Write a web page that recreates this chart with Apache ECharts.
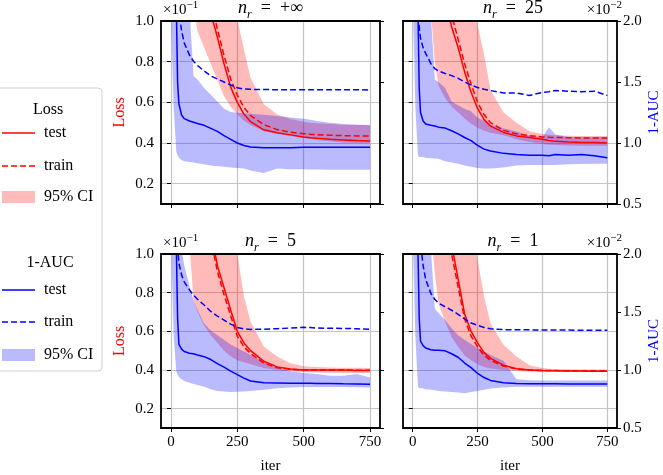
<!DOCTYPE html>
<html><head><meta charset="utf-8">
<script src="https://cdn.jsdelivr.net/npm/echarts@6/dist/echarts.min.js"></script>
<style>html,body{margin:0;padding:0;background:#fff}#c{width:663px;height:475px}</style>
</head><body><div id="c"></div><script>
// ---------- data ----------
const iters = [0,10,20,25,30,40,50,70,85,100,125,150,175,200,225,250,275,300,350,400,450,500,525,550,600,650,700,750];
const panelLabels = ['+∞','25','5','1'];
const xTicks = [0,250,500,750];
const lossTicks = [0.2,0.4,0.6,0.8,1.0];
const aucTicks = [0.5,1.0,1.5,2.0];

// n_r = +inf
const lossTestInf  = [2.6,2.45,2.3,2.22,2.15,2.0,1.87,1.62,1.47,1.34,1.17,1.04,0.92,0.79,0.675,0.6,0.542,0.505,0.465,0.45,0.44,0.43,0.426,0.423,0.418,0.415,0.412,0.41];
const lossTrainInf = [2.7,2.55,2.4,2.32,2.25,2.1,1.96,1.7,1.55,1.42,1.24,1.1,0.96,0.83,0.715,0.635,0.575,0.535,0.49,0.466,0.453,0.446,0.443,0.441,0.438,0.436,0.435,0.434];
const lossHiInf    = [4.0,3.9,3.8,3.75,3.7,3.6,3.5,3.3,3.1,2.8,2.4,2.0,1.65,1.38,1.17,1.01,0.86,0.72,0.59,0.54,0.518,0.505,0.5,0.497,0.493,0.49,0.49,0.488];
const lossLoInf    = [2.2,2.0,1.85,1.78,1.7,1.55,1.42,1.2,1.07,0.95,0.87,0.79,0.71,0.63,0.58,0.54,0.51,0.488,0.458,0.445,0.435,0.425,0.42,0.415,0.408,0.403,0.4,0.4];
const aucTestInf   = [2.6,2.45,2.15,1.5,1.32,1.23,1.2,1.18,1.17,1.16,1.145,1.12,1.095,1.06,1.03,1.0,0.98,0.967,0.962,0.962,0.962,0.965,0.966,0.966,0.965,0.966,0.965,0.965];
const aucTrainInf  = [3.0,2.6,2.3,2.2,2.08,1.92,1.82,1.72,1.67,1.635,1.59,1.55,1.525,1.5,1.475,1.452,1.443,1.44,1.438,1.437,1.437,1.436,1.436,1.437,1.437,1.436,1.436,1.435];
const aucHiInf     = [3.0,2.9,2.8,2.75,2.7,2.55,2.4,2.1,1.55,1.52,1.45,1.395,1.34,1.28,1.255,1.248,1.243,1.24,1.232,1.222,1.21,1.198,1.19,1.18,1.165,1.155,1.15,1.145];
const aucLoInf     = [2.1,1.3,0.93,0.9,0.88,0.86,0.85,0.845,0.84,0.835,0.825,0.815,0.81,0.805,0.8,0.795,0.79,0.775,0.755,0.79,0.785,0.785,0.783,0.782,0.78,0.78,0.78,0.78];

// n_r = 25
const lossTest25  = [2.4,2.25,2.1,2.03,1.97,1.85,1.75,1.55,1.42,1.3,1.12,0.97,0.87,0.75,0.65,0.57,0.515,0.483,0.452,0.435,0.427,0.418,0.412,0.408,0.405,0.403,0.402,0.40];
const lossTrain25 = [2.5,2.35,2.2,2.13,2.06,1.95,1.84,1.64,1.5,1.38,1.2,1.03,0.91,0.79,0.69,0.6,0.54,0.5,0.462,0.445,0.436,0.43,0.428,0.427,0.426,0.425,0.424,0.424];
const lossHi25    = [4.0,3.9,3.8,3.75,3.7,3.6,3.5,3.3,3.1,2.9,2.5,2.1,1.75,1.45,1.2,0.98,0.835,0.66,0.55,0.5,0.458,0.444,0.44,0.438,0.436,0.435,0.434,0.434];
const lossLo25    = [1.8,1.7,1.6,1.55,1.5,1.4,1.28,1.05,0.8,0.68,0.62,0.58,0.55,0.52,0.495,0.475,0.46,0.45,0.438,0.418,0.405,0.395,0.392,0.39,0.388,0.387,0.387,0.387];
const aucTest25   = [2.6,2.45,2.1,1.45,1.25,1.18,1.155,1.145,1.14,1.13,1.122,1.1,1.075,1.045,1.02,0.98,0.95,0.935,0.915,0.905,0.9,0.9,0.895,0.905,0.9,0.905,0.895,0.88];
const aucTrain25  = [3.0,2.6,2.1,1.95,1.86,1.78,1.735,1.65,1.61,1.59,1.57,1.552,1.53,1.5,1.475,1.455,1.44,1.43,1.41,1.41,1.39,1.415,1.42,1.43,1.425,1.42,1.425,1.39];
const aucHi25     = [3.0,2.9,2.8,2.75,2.7,2.6,2.5,2.05,1.52,1.5,1.45,1.34,1.31,1.28,1.26,1.21,1.18,1.15,1.12,1.095,1.06,1.05,1.13,1.07,1.05,1.05,1.05,1.05];
const aucLo25     = [2.2,1.3,0.9,0.885,0.885,0.885,0.88,0.875,0.872,0.87,0.85,0.84,0.83,0.815,0.805,0.795,0.79,0.79,0.8,0.815,0.82,0.82,0.82,0.82,0.825,0.828,0.83,0.83];

// n_r = 5
const lossTest5  = [2.8,2.7,2.6,2.55,2.5,2.4,2.3,2.05,1.85,1.65,1.4,1.12,0.94,0.825,0.71,0.6,0.54,0.5,0.445,0.416,0.405,0.4,0.4,0.4,0.4,0.4,0.398,0.398];
const lossTrain5 = [2.75,2.65,2.55,2.5,2.45,2.35,2.25,2.0,1.8,1.6,1.35,1.08,0.91,0.79,0.68,0.575,0.52,0.485,0.435,0.412,0.403,0.4,0.4,0.4,0.4,0.4,0.399,0.399];
const lossHi5    = [3.4,3.3,3.2,3.15,3.1,3.0,2.9,2.7,2.55,2.4,2.15,1.9,1.65,1.42,1.2,1.0,0.78,0.65,0.52,0.47,0.435,0.42,0.417,0.415,0.413,0.412,0.411,0.41];
const lossLo5    = [1.8,1.7,1.6,1.55,1.5,1.4,1.3,1.05,0.76,0.7,0.63,0.58,0.54,0.5,0.47,0.45,0.44,0.43,0.41,0.4,0.393,0.39,0.388,0.387,0.386,0.385,0.385,0.385];
const aucTest5   = [2.6,2.4,2.1,1.45,1.22,1.18,1.16,1.145,1.14,1.13,1.115,1.09,1.055,1.025,0.99,0.96,0.93,0.905,0.89,0.888,0.886,0.886,0.885,0.884,0.883,0.881,0.88,0.878];
const aucTrain5  = [3.0,2.6,2.2,2.05,1.92,1.82,1.76,1.69,1.645,1.61,1.56,1.505,1.465,1.43,1.395,1.366,1.355,1.35,1.352,1.356,1.362,1.368,1.366,1.362,1.36,1.358,1.356,1.35];
const aucHi5     = [3.0,2.8,2.6,2.5,2.4,2.05,1.9,1.72,1.6,1.52,1.4,1.34,1.3,1.26,1.22,1.19,1.16,1.13,1.07,1.02,0.99,0.975,0.97,0.965,0.95,0.95,0.965,0.935];
const aucLo5     = [2.2,1.3,0.99,0.96,0.94,0.92,0.905,0.89,0.88,0.87,0.855,0.835,0.82,0.815,0.81,0.812,0.815,0.82,0.83,0.843,0.85,0.853,0.853,0.853,0.853,0.853,0.852,0.85];

// n_r = 1
const lossTest1  = [2.8,2.7,2.6,2.55,2.5,2.4,2.3,2.05,1.85,1.6,1.33,1.05,0.87,0.69,0.6,0.54,0.49,0.46,0.425,0.407,0.4,0.397,0.396,0.396,0.395,0.395,0.394,0.394];
const lossTrain1 = [2.75,2.65,2.55,2.5,2.45,2.35,2.25,2.0,1.8,1.55,1.28,1.0,0.83,0.665,0.575,0.52,0.475,0.45,0.42,0.405,0.4,0.398,0.397,0.397,0.396,0.396,0.396,0.396];
const lossHi1    = [3.4,3.3,3.2,3.15,3.1,3.0,2.9,2.7,2.55,2.4,2.15,1.9,1.65,1.4,1.18,0.97,0.78,0.64,0.53,0.47,0.425,0.41,0.407,0.405,0.404,0.403,0.403,0.403];
const lossLo1    = [1.8,1.7,1.6,1.55,1.5,1.4,1.3,1.12,0.9,0.74,0.65,0.57,0.52,0.475,0.45,0.43,0.415,0.408,0.4,0.395,0.392,0.39,0.39,0.39,0.39,0.39,0.39,0.39];
const aucTest1   = [2.6,2.4,2.05,1.45,1.25,1.21,1.19,1.175,1.17,1.17,1.165,1.14,1.11,1.06,1.02,0.97,0.935,0.91,0.89,0.884,0.882,0.882,0.881,0.881,0.88,0.88,0.88,0.88];
const aucTrain1  = [3.0,2.6,2.3,2.2,2.1,1.9,1.78,1.66,1.61,1.575,1.545,1.515,1.48,1.44,1.405,1.385,1.367,1.355,1.348,1.347,1.346,1.345,1.345,1.344,1.344,1.343,1.343,1.343];
const aucHi1     = [3.0,2.9,2.8,2.75,2.7,2.55,2.4,2.05,1.53,1.49,1.43,1.36,1.3,1.26,1.225,1.19,1.16,1.13,1.08,0.92,0.912,0.91,0.91,0.91,0.91,0.91,0.91,0.91];
const aucLo1     = [2.2,1.3,0.86,0.845,0.843,0.84,0.835,0.83,0.825,0.82,0.815,0.81,0.805,0.8,0.81,0.82,0.83,0.84,0.85,0.855,0.855,0.855,0.855,0.855,0.855,0.855,0.855,0.855];

// ---------- style / layout ----------
const F = "'Liberation Serif','DejaVu Serif',serif";
const lossCol = '#ff0000', aucCol = '#0000ff';
const lossFill = 'rgba(255,0,0,0.27)', aucFill = 'rgba(0,0,255,0.27)';
const gridCol = '#c4c4c4';

const panels = [
  {lab:panelLabels[0], lt:lossTestInf, ltr:lossTrainInf, llo:lossLoInf, lhi:lossHiInf, at:aucTestInf, atr:aucTrainInf, alo:aucLoInf, ahi:aucHiInf},
  {lab:panelLabels[1], lt:lossTest25, ltr:lossTrain25, llo:lossLo25, lhi:lossHi25, at:aucTest25, atr:aucTrain25, alo:aucLo25, ahi:aucHi25},
  {lab:panelLabels[2], lt:lossTest5, ltr:lossTrain5, llo:lossLo5, lhi:lossHi5, at:aucTest5, atr:aucTrain5, alo:aucLo5, ahi:aucHi5},
  {lab:panelLabels[3], lt:lossTest1, ltr:lossTrain1, llo:lossLo1, lhi:lossHi1, at:aucTest1, atr:aucTrain1, alo:aucLo1, ahi:aucHi1}
];
const layout = [
  {left:161, top:21, width:219, height:183, isLeft:true,  bottom:false, offTop:3},
  {left:403, top:21, width:220, height:183, isLeft:false, bottom:false, offTop:3},
  {left:161, top:254, width:219, height:185, isLeft:true,  bottom:true, offTop:236},
  {left:403, top:254, width:220, height:185, isLeft:false, bottom:true, offTop:236}
];

const pairs = ys => iters.map((x,i)=>[x, ys[i]]);
const tickTxt = {fontFamily:F, fontSize:15, color:'#000'};

function bandSeries(p, yIdx, lo, hi, fill) {
  return {
    type:'custom', coordinateSystem:'cartesian2d', xAxisIndex:p, yAxisIndex:yIdx,
    silent:true, clip:true, animation:false, z:1,
    data: iters.map((x,i)=>[x, lo[i], hi[i]]),
    encode:{x:0, y:[1,2]},
    renderItem: function(params, api) {
      if (params.dataIndex !== 0) return null;
      const pts = [];
      for (let i = 0; i < iters.length; i++) pts.push(api.coord([iters[i], hi[i]]));
      for (let i = iters.length - 1; i >= 0; i--) pts.push(api.coord([iters[i], lo[i]]));
      const cs = params.coordSys;
      return {
        type:'polygon', shape:{points:pts}, style:{fill:fill, stroke:null},
        clipPath:{type:'rect', shape:{x:cs.x, y:cs.y, width:cs.width, height:cs.height}}
      };
    }
  };
}

const grid = [], xAxis = [], yAxis = [], series = [], title = [];
layout.forEach((L, p) => {
  const P = panels[p];
  grid.push({left:L.left, top:L.top, width:L.width, height:L.height, show:true, z:8, borderColor:'#000', borderWidth:1.8, backgroundColor:'transparent'});
  xAxis.push({type:'value', gridIndex:p, min:-37.5, max:787.5,
    axisLine:{show:false},
    axisTick:{show:true, customValues:xTicks, length:4, lineStyle:{color:'#000', width:1}},
    axisLabel:Object.assign({show:L.bottom, customValues:xTicks, margin:7}, tickTxt),
    splitLine:{show:true, lineStyle:{color:gridCol, width:1.2}},
    name:L.bottom?'iter':'', nameLocation:'middle', nameGap:31, nameTextStyle:tickTxt});
  yAxis.push({type:'value', gridIndex:p, position:'left', min:0.1, max:1.0,
    axisLine:{show:false},
    axisTick:{show:true, customValues:lossTicks, length:4, lineStyle:{color:'#000', width:1}},
    axisLabel:Object.assign({show:L.isLeft, customValues:lossTicks, margin:7, formatter:v=>v.toFixed(1)}, tickTxt),
    splitLine:{show:true, lineStyle:{color:gridCol, width:1.2}},
    name:L.isLeft?'Loss':'', nameLocation:'middle', nameGap:33, nameTextStyle:{fontFamily:F, fontSize:16, color:lossCol}});
  yAxis.push({type:'value', gridIndex:p, position:'right', min:0.5, max:2.0, interval:0.5,
    axisLine:{show:false},
    axisTick:{show:true, customValues:aucTicks, length:4, lineStyle:{color:'#000', width:1}},
    axisLabel:Object.assign({show:!L.isLeft, customValues:aucTicks, margin:6, formatter:v=>v.toFixed(1)}, tickTxt),
    splitLine:{show:false},
    name:L.isLeft?'':'1-AUC', nameLocation:'middle', nameGap:30, nameTextStyle:{fontFamily:F, fontSize:15, color:aucCol}});

  series.push(bandSeries(p, 2*p, P.llo, P.lhi, lossFill));
  series.push(bandSeries(p, 2*p+1, P.alo, P.ahi, aucFill));

  const base = {type:'line', xAxisIndex:p, symbol:'none', showSymbol:false, silent:true, clip:true, animation:false, z:3};
  series.push(Object.assign({}, base, {yAxisIndex:2*p, data:pairs(P.ltr), lineStyle:{color:lossCol, width:1.5, type:[6,3]}}));
  series.push(Object.assign({}, base, {yAxisIndex:2*p, data:pairs(P.lt), lineStyle:{color:lossCol, width:1.5}}));
  series.push(Object.assign({}, base, {yAxisIndex:2*p+1, data:pairs(P.atr), lineStyle:{color:aucCol, width:1.5, type:[6,3]}}));
  series.push(Object.assign({}, base, {yAxisIndex:2*p+1, data:pairs(P.at), lineStyle:{color:aucCol, width:1.5}}));

  title.push({text:'{i|n}{s|r}{t|  =  ' + P.lab + '}', left:L.left + L.width/2, top:L.top - 25, textAlign:'center', padding:0,
    textStyle:{fontWeight:'normal', rich:{
      i:{fontFamily:F, fontStyle:'italic', fontWeight:'normal', fontSize:18, color:'#000'},
      s:{fontFamily:F, fontStyle:'italic', fontWeight:'normal', fontSize:12, color:'#000', padding:[13,0,0,0]},
      t:{fontFamily:F, fontWeight:'normal', fontSize:18, color:'#000'}}}});
  title.push({text:'{a|×10}{b|' + (L.isLeft ? '−1' : '−2') + '}', left: L.isLeft ? L.left + 2 : L.left + L.width - 1, top:L.offTop - 3,
    textAlign: L.isLeft ? 'left' : 'right', padding:0,
    textStyle:{fontWeight:'normal', rich:{
      a:{fontFamily:F, fontWeight:'normal', fontSize:15, color:'#000'},
      b:{fontFamily:F, fontWeight:'normal', fontSize:11, color:'#000', padding:[0,0,10,0]}}}});
});

const lf = {fontFamily:F, fontSize:16, fill:'#000', verticalAlign:'middle'};
const graphic = [
  {type:'rect', shape:{x:-6, y:88, width:108, height:283, r:4}, style:{fill:'#fff', stroke:'#d0d0d0', lineWidth:1}, z:10},
  {type:'text', x:48, y:110, style:Object.assign({text:'Loss', align:'center'}, lf), z:11},
  {type:'line', shape:{x1:2, y1:133, x2:35, y2:133}, style:{stroke:lossCol, lineWidth:1.5}, z:11},
  {type:'text', x:44, y:133, style:Object.assign({text:'test', align:'left'}, lf), z:11},
  {type:'line', shape:{x1:2, y1:166, x2:35, y2:166}, style:{stroke:lossCol, lineWidth:1.5, lineDash:[6,3]}, z:11},
  {type:'text', x:44, y:166, style:Object.assign({text:'train', align:'left'}, lf), z:11},
  {type:'rect', shape:{x:2, y:191, width:33, height:12}, style:{fill:lossFill}, z:11},
  {type:'text', x:44, y:197, style:Object.assign({text:'95% CI', align:'left'}, lf), z:11},
  {type:'text', x:50, y:263, style:Object.assign({text:'1-AUC', align:'center'}, lf), z:11},
  {type:'line', shape:{x1:2, y1:290, x2:35, y2:290}, style:{stroke:aucCol, lineWidth:1.5}, z:11},
  {type:'text', x:44, y:290, style:Object.assign({text:'test', align:'left'}, lf), z:11},
  {type:'line', shape:{x1:2, y1:322, x2:35, y2:322}, style:{stroke:aucCol, lineWidth:1.5, lineDash:[6,3]}, z:11},
  {type:'text', x:44, y:322, style:Object.assign({text:'train', align:'left'}, lf), z:11},
  {type:'rect', shape:{x:2, y:349, width:33, height:12}, style:{fill:aucFill}, z:11},
  {type:'text', x:44, y:355, style:Object.assign({text:'95% CI', align:'left'}, lf), z:11}
];

const chart = echarts.init(document.getElementById('c'), null, {renderer:'canvas'});
chart.setOption({
  animation:false,
  backgroundColor:'#fff',
  textStyle:{fontFamily:F},
  title, grid, xAxis, yAxis, series, graphic
});
</script></body></html>
